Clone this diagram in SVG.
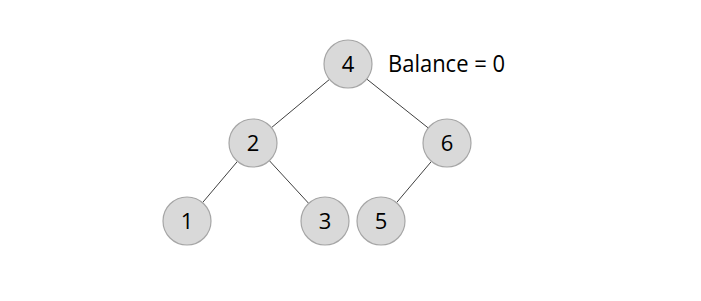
<svg xmlns="http://www.w3.org/2000/svg" width="701" height="301" viewBox="0 0 701 301">
<style>
.n{fill:#d9d9d9;stroke:#a6a6a6;stroke-width:1.2}
.t{font-family:"Open Sans","Liberation Sans",sans-serif;font-size:22px;fill:#000;text-anchor:middle}
.e{stroke:#404040;stroke-width:1}
</style>
<rect width="701" height="301" fill="#fff"/>
<g id="connectors">
<line class="e" x1="329.6" y1="79.3" x2="271.4" y2="127.7"/>
<line class="e" x1="366.7" y1="79" x2="428.3" y2="128"/>
<line class="e" x1="237.5" y1="161.3" x2="202.5" y2="202.7"/>
<line class="e" x1="269.3" y1="160.6" x2="308.7" y2="203.4"/>
<line class="e" x1="431.5" y1="161.3" x2="396.5" y2="202.7"/>
</g>
<g id="node4"><circle class="n" cx="348" cy="64" r="24"/><text class="t" x="348" y="72">4</text></g>
<g id="node2"><circle class="n" cx="253" cy="143" r="24"/><text class="t" x="253" y="151">2</text></g>
<g id="node6"><circle class="n" cx="447" cy="143" r="24"/><text class="t" x="447" y="151">6</text></g>
<g id="node1"><circle class="n" cx="187" cy="221" r="24"/><text class="t" x="187" y="229">1</text></g>
<g id="node3"><circle class="n" cx="325" cy="221" r="24"/><text class="t" x="325" y="229">3</text></g>
<g id="node5"><circle class="n" cx="381" cy="221" r="24"/><text class="t" x="381" y="229">5</text></g>
<g id="label"><text x="388" y="72" font-family="Open Sans, Liberation Sans, sans-serif" font-size="23" textLength="117" lengthAdjust="spacingAndGlyphs" fill="#000">Balance = 0</text></g>
</svg>
